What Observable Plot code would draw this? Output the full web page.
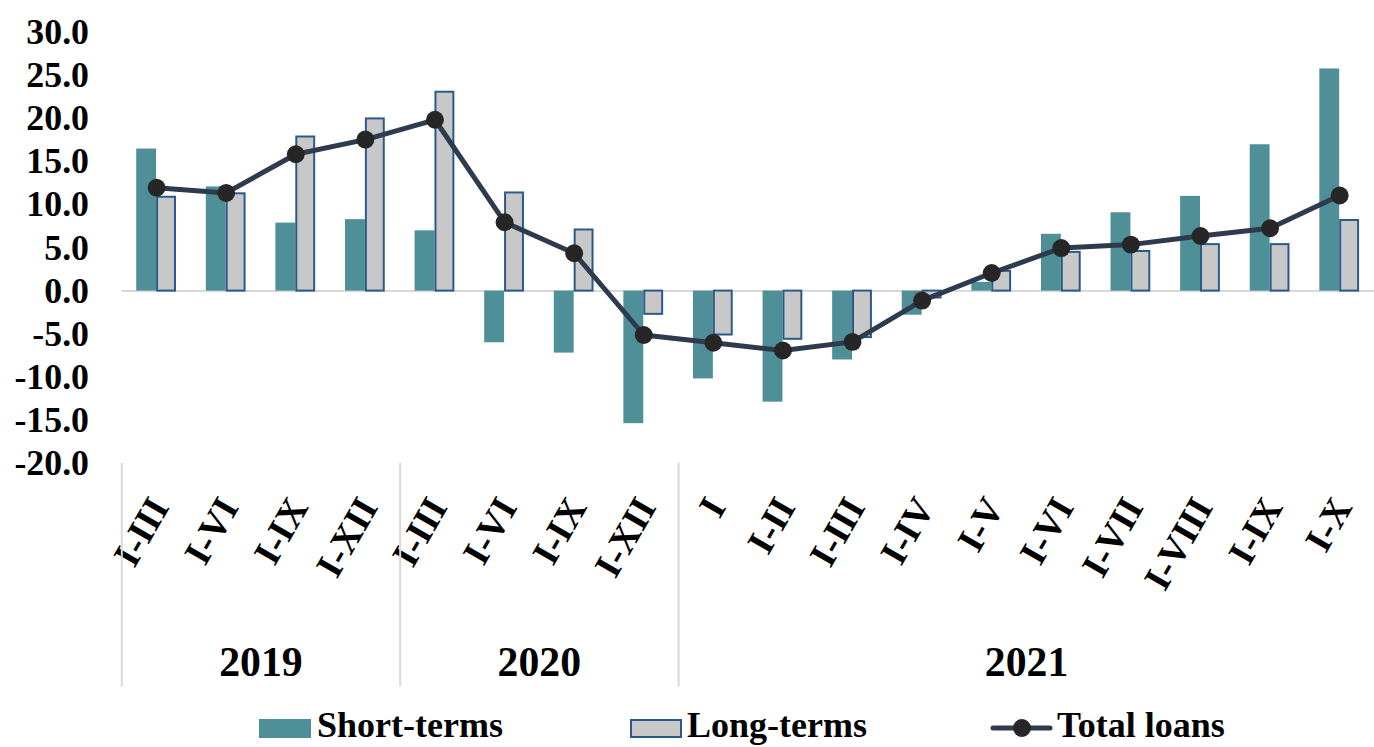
<!DOCTYPE html>
<html>
<head>
<meta charset="utf-8">
<script src="https://cdn.jsdelivr.net/npm/d3@7"></script>
<script src="https://cdn.jsdelivr.net/npm/@observablehq/plot@0.6"></script>
<style>
  html, body { margin: 0; padding: 0; background: #fff; }
  #wrap { position: relative; width: 1374px; height: 747px; overflow: hidden; font-family: "Liberation Serif", "Times New Roman", serif; font-weight: bold; }
  #chart { position: absolute; left: 0; top: 0; }
  .lg { position: absolute; font-size: 36px; line-height: 36px; color: #000; white-space: nowrap; }
  .sw { position: absolute; box-sizing: border-box; }
</style>
</head>
<body>
<div id="wrap">
  <div id="chart"></div>
  <div class="sw" style="left:259px; top:719px; width:52px; height:19px; background:#4f8f97;"></div>
  <div class="lg" style="left:317px; top:707px;">Short-terms</div>
  <div class="sw" style="left:630px; top:719px; width:52px; height:19px; background:#c8c8c8; border:2px solid #2a5a8a;"></div>
  <div class="lg" style="left:687px; top:707px;">Long-terms</div>
  <svg class="sw" style="left:990px; top:715px;" width="64" height="26">
    <line x1="3" y1="13" x2="60" y2="13" stroke="#2e3b4e" stroke-width="5" stroke-linecap="round"/>
    <circle cx="32" cy="13" r="9" fill="#262626"/>
  </svg>
  <div class="lg" style="left:1057px; top:707px;">Total loans</div>
</div>
<script>
const years = ["2019","2019","2019","2019","2020","2020","2020","2020",
  "2021","2021","2021","2021","2021","2021","2021","2021","2021","2021"];
const periods = ["I-III","I-VI","I-IX","I-XII","I-III","I-VI","I-IX","I-XII",
  "I","I-II","I-III","I-IV","I-V","I-VI","I-VII","I-VIII","I-IX","I-X"];
const shortTerms = [16.5,12.1,7.9,8.3,7.0,-6.0,-7.2,-15.4,-10.2,-12.9,-8.0,-2.8,1.0,6.6,9.1,11.0,17.0,25.8];
const longTerms  = [10.9,11.3,17.9,20.0,23.1,11.4,7.1,-2.7,-5.1,-5.6,-5.4,-0.8,2.3,4.5,4.6,5.4,5.4,8.2];
const totalLoans = [12.0,11.4,15.9,17.6,19.9,8.0,4.4,-5.1,-6.0,-6.9,-5.9,-1.1,2.1,5.0,5.4,6.4,7.3,11.1];
const yTicks = [-20,-15,-10,-5,0,5,10,15,20,25,30];
const yearLabels = ["2019","2020","2021"];

const data = periods.map((p, i) => ({
  key: years[i] + " " + p, year: years[i], period: p,
  short: shortTerms[i], long: longTerms[i], total: totalLoans[i]
}));
const keys = data.map(d => d.key);
const labelOf = new Map(data.map(d => [d.key, d.period]));

const yearGroups = yearLabels.map(y => {
  const idx = data.map((d, i) => d.year === y ? i : -1).filter(i => i >= 0);
  return {year: y, first: keys[idx[0]], mid: keys[idx[0] + idx.length / 2]};
});

const step = 70;
const sepBottom = -46;

const chart = Plot.plot({
  width: 1382,
  height: 705,
  marginLeft: 122,
  marginRight: 0,
  marginTop: 32.5,
  marginBottom: 239.5,
  style: {fontFamily: "'Liberation Serif', 'Times New Roman', serif", fontWeight: "bold", color: "#000", background: "#fff"},
  x: {domain: keys, type: "band", paddingInner: 30/70, paddingOuter: 15/70, label: null},
  y: {domain: [-20, 30], label: null},
  marks: [
    Plot.ruleY([0], {stroke: "#d9d9d9", strokeWidth: 2}),
    Plot.barY(data, {x: "key", y: "short", fill: "#4f8f97", insetRight: 20}),
    Plot.barY(data, {x: "key", y: "long", fill: "#c8c8c8", stroke: "#2a5a8a", strokeWidth: 2, insetLeft: 21, insetRight: 1}),
    Plot.line(data, {x: "key", y: "total", stroke: "#2e3b4e", strokeWidth: 5}),
    Plot.dot(data, {x: "key", y: "total", r: 9, fill: "#262626"}),
    Plot.axisY(yTicks, {tickSize: 0, tickPadding: 33, fontSize: 36, tickFormat: d => d.toFixed(1), label: null}),
    Plot.axisX({tickSize: 0, tickPadding: 38, tickRotate: -60, fontSize: 38, dx: 3, tickFormat: d => labelOf.get(d), label: null}),
    Plot.ruleX(yearGroups, {x: "first", y1: -20, y2: sepBottom, dx: -step / 2, stroke: "#d9d9d9", strokeWidth: 2}),
    Plot.text(yearGroups, {x: "mid", y: -20, text: "year", dx: -step / 2, dy: 200, fontSize: 42, lineAnchor: "middle", fill: "#000"})
  ]
});
document.getElementById("chart").appendChild(chart);
</script>
</body>
</html>
